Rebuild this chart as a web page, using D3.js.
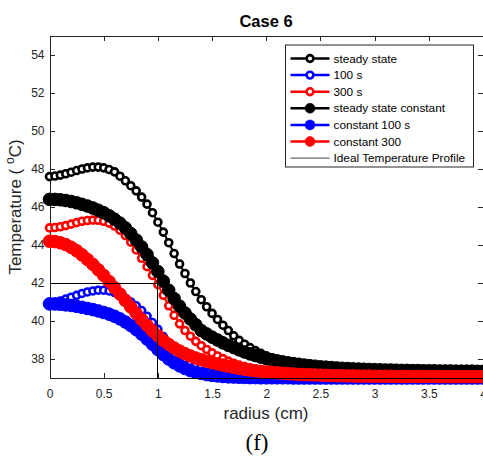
<!DOCTYPE html>
<html lang="en">
<head>
  <title>Case 6</title>
  <meta charset="utf-8">
  <script src="https://d3js.org/d3.v7.min.js"></script>
</head>
<body style="margin:0;background:#fff">
<style>
.axis path,
.axis line {
  fill: none;
  stroke: #262626;
  shape-rendering: crispEdges;
}

.axis text {
  font: 12px "Liberation Sans", Arial, sans-serif;
  fill: #262626;
}

.lbl {
  font-family: "Liberation Sans", Arial, sans-serif;
  fill: #262626;
}
</style>
<svg width="483" height="457"></svg>
<script>

// radius grid, 0 to 4 cm every 0.05
var radius = d3.range(0, 81).map(function(i) { return +(i * 0.05).toFixed(2); });

var steadyState = [
  47.60,47.63,47.68,47.75,47.83,47.92,48.00,48.06,48.10,48.10,
  48.06,47.97,47.85,47.62,47.38,47.12,46.85,46.52,46.15,45.70,
  45.20,44.68,44.12,43.55,43.00,42.50,42.00,41.55,41.12,40.75,
  40.40,40.08,39.78,39.50,39.22,38.98,38.78,38.60,38.44,38.30,
  38.17,38.06,37.97,37.89,37.82,37.76,37.70,37.65,37.61,37.57,
  37.54,37.51,37.49,37.47,37.45,37.43,37.42,37.41,37.40,37.39,
  37.38,37.37,37.37,37.36,37.36,37.35,37.35,37.34,37.34,37.34,
  37.33,37.33,37.33,37.33,37.32,37.32,37.32,37.32,37.32,37.31,
  37.31];

var t100 = [
  40.90,40.97,41.05,41.15,41.25,41.35,41.45,41.53,41.58,41.62,
  41.62,41.58,41.50,41.37,41.20,41.00,40.80,40.55,40.25,39.92,
  39.56,39.18,38.82,38.50,38.24,38.03,37.86,37.72,37.61,37.52,
  37.44,37.38,37.33,37.28,37.24,37.21,37.18,37.16,37.14,37.12,
  37.10,37.09,37.08,37.07,37.06,37.06,37.05,37.05,37.04,37.04,
  37.04,37.03,37.03,37.03,37.03,37.02,37.02,37.02,37.02,37.02,
  37.02,37.02,37.02,37.01,37.01,37.01,37.01,37.01,37.01,37.01,
  37.01,37.01,37.01,37.01,37.01,37.01,37.01,37.01,37.01,37.01,
  37.01];

var t300 = [
  44.90,44.92,44.96,45.02,45.10,45.18,45.25,45.29,45.31,45.30,
  45.25,45.15,45.00,44.78,44.50,44.15,43.74,43.30,42.86,42.40,
  41.92,41.35,40.80,40.30,39.85,39.50,39.20,38.93,38.70,38.50,
  38.32,38.16,38.02,37.89,37.78,37.68,37.60,37.52,37.46,37.41,
  37.37,37.33,37.30,37.27,37.25,37.23,37.21,37.20,37.19,37.18,
  37.17,37.16,37.15,37.14,37.13,37.13,37.12,37.12,37.11,37.11,
  37.10,37.10,37.10,37.09,37.09,37.09,37.09,37.08,37.08,37.08,
  37.08,37.08,37.08,37.07,37.07,37.07,37.07,37.07,37.07,37.07,
  37.07];

var steadyConst = [
  46.40,46.40,46.38,46.34,46.29,46.22,46.14,46.05,45.95,45.83,
  45.70,45.54,45.36,45.15,44.90,44.60,44.26,43.90,43.50,43.06,
  42.60,42.10,41.62,41.18,40.78,40.42,40.10,39.80,39.50,39.32,
  39.15,39.00,38.85,38.72,38.60,38.48,38.37,38.27,38.18,38.10,
  38.03,37.96,37.90,37.85,37.80,37.76,37.72,37.68,37.65,37.62,
  37.59,37.57,37.55,37.53,37.51,37.50,37.48,37.47,37.46,37.45,
  37.44,37.43,37.42,37.42,37.41,37.40,37.40,37.39,37.39,37.38,
  37.38,37.38,37.37,37.37,37.37,37.36,37.36,37.36,37.36,37.35,
  37.35];

var const100 = [
  40.90,40.90,40.88,40.85,40.82,40.77,40.72,40.66,40.60,40.53,
  40.45,40.36,40.25,40.11,39.95,39.76,39.55,39.31,39.05,38.78,
  38.50,38.24,38.00,37.80,37.64,37.50,37.39,37.30,37.24,37.18,
  37.14,37.11,37.08,37.06,37.05,37.04,37.03,37.02,37.02,37.01,
  37.01,37.01,37.01,37.01,37.01,37.00,37.00,37.00,37.00,37.00,
  37.00,37.00,37.00,37.00,37.00,37.00,37.00,37.00,37.00,37.00,
  37.00,37.00,37.00,37.00,37.00,37.00,37.00,37.00,37.00,37.00,
  37.00,37.00,37.00,37.00,37.00,37.00,37.00,37.00,37.00,37.00,
  37.00];

var const300 = [
  44.20,44.18,44.12,44.02,43.88,43.70,43.48,43.24,42.98,42.70,
  42.40,42.08,41.75,41.42,41.08,40.74,40.40,40.08,39.77,39.48,
  39.22,38.98,38.77,38.58,38.42,38.28,38.16,38.05,37.96,37.88,
  37.81,37.74,37.68,37.62,37.56,37.51,37.46,37.42,37.38,37.35,
  37.32,37.29,37.27,37.25,37.23,37.21,37.19,37.18,37.17,37.16,
  37.15,37.14,37.13,37.12,37.12,37.11,37.11,37.10,37.10,37.10,
  37.09,37.09,37.09,37.09,37.08,37.08,37.08,37.08,37.08,37.08,
  37.08,37.08,37.07,37.07,37.07,37.07,37.07,37.07,37.07,37.07,
  37.07];

// ideal step profile
var idealR = [0, 1, 1, 4];
var idealT = [42, 42, 37, 37];

var seriesNames = ["steady state", "100 s", "300 s", "steady state constant", "constant 100 s", "constant 300"];
var seriesColors = ["#000000", "#0000ff", "#ff0000", "#000000", "#0000ff", "#ff0000"];
var seriesFilled = [false, false, false, true, true, true];
var seriesValues = [steadyState, t100, t300, steadyConst, const100, const300];

var xTicks = [0, 0.5, 1, 1.5, 2, 2.5, 3, 3.5, 4];
var yTicks = [38, 40, 42, 44, 46, 48, 50, 52, 54];

var svg = d3.select("svg");

var x = d3.scaleLinear().domain([0, 4]).range([49.5, 483]);
var y = d3.scaleLinear().domain([37, 55]).range([378, 36]);

// axes box (drawn under the data, as matlab does)
svg.append("g")
    .attr("class", "axis")
    .attr("transform", "translate(0," + y(37) + ")")
    .call(d3.axisBottom(x).tickValues(xTicks).tickSizeInner(-5).tickSizeOuter(0).tickPadding(11)
      .tickFormat(function(d) { return d; }));

svg.append("g")
    .attr("class", "axis")
    .attr("transform", "translate(0," + y(55) + ")")
    .call(d3.axisTop(x).tickValues(xTicks).tickSizeInner(-5).tickSizeOuter(0).tickFormat(""));

svg.append("g")
    .attr("class", "axis")
    .attr("transform", "translate(" + x(0) + ",0)")
    .call(d3.axisLeft(y).tickValues(yTicks).tickSizeInner(-5).tickSizeOuter(0).tickPadding(5));

svg.append("g")
    .attr("class", "axis")
    .attr("transform", "translate(" + x(4) + ",0)")
    .call(d3.axisRight(y).tickValues(yTicks).tickSizeInner(-5).tickSizeOuter(0).tickFormat(""));

var line = d3.line()
    .x(function(d) { return x(d[0]); })
    .y(function(d) { return y(d[1]); });

seriesValues.forEach(function(vals, i) {
  var pts = radius.map(function(r, j) { return [r, vals[j]]; });
  var g = svg.append("g");
  g.append("path")
      .attr("d", line(pts))
      .attr("fill", "none")
      .attr("stroke", seriesColors[i])
      .attr("stroke-width", 2);
  g.selectAll("circle").data(pts).enter().append("circle")
      .attr("cx", function(d) { return x(d[0]); })
      .attr("cy", function(d) { return y(d[1]); })
      .attr("r", seriesFilled[i] ? 6.3 : 3.5)
      .attr("fill", seriesFilled[i] ? seriesColors[i] : "#fff")
      .attr("stroke", seriesColors[i])
      .attr("stroke-width", seriesFilled[i] ? 1 : 2.6);
});

svg.append("path")
    .attr("d", line(idealR.map(function(r, j) { return [r, idealT[j]]; })))
    .attr("fill", "none")
    .attr("stroke", "#000")
    .attr("stroke-width", 1)
    .style("shape-rendering", "crispEdges");

// legend
var lg = svg.append("g").attr("transform", "translate(285.5,45)");
lg.append("rect")
    .attr("width", 188)
    .attr("height", 122)
    .attr("fill", "#fff")
    .attr("stroke", "#262626")
    .attr("stroke-width", 1);

var legendNames = seriesNames.concat(["Ideal Temperature Profile"]);
legendNames.forEach(function(name, i) {
  var yy = 13.5 + i * 16.6;
  var row = lg.append("g");
  var col = i < 6 ? seriesColors[i] : "#000";
  row.append("line")
      .attr("x1", 5).attr("x2", 44)
      .attr("y1", yy).attr("y2", yy)
      .attr("stroke", col)
      .attr("stroke-width", i < 6 ? 2.5 : 1.2)
      .attr("stroke-opacity", i < 6 ? 1 : 0.6);
  if (i < 6) {
    row.append("circle")
        .attr("cx", 24.5).attr("cy", yy)
        .attr("r", seriesFilled[i] ? 5 : 3.4)
        .attr("fill", seriesFilled[i] ? col : "#fff")
        .attr("stroke", col)
        .attr("stroke-width", seriesFilled[i] ? 0.5 : 2.6);
  }
  row.append("text")
      .attr("class", "lbl")
      .attr("x", 48)
      .attr("y", yy + 4)
      .style("font-size", "11.8px")
      .style("fill", "#000")
      .text(name);
});

// titles
svg.append("text")
    .attr("class", "lbl")
    .attr("x", 266)
    .attr("y", 27)
    .attr("text-anchor", "middle")
    .style("font-size", "16.5px")
    .style("font-weight", "bold")
    .style("fill", "#000")
    .text("Case 6");

svg.append("text")
    .attr("class", "lbl")
    .attr("x", 266)
    .attr("y", 419)
    .attr("text-anchor", "middle")
    .style("font-size", "17px")
    .text("radius (cm)");

var yl = svg.append("text")
    .attr("class", "lbl")
    .attr("transform", "translate(21,207) rotate(-90)")
    .attr("text-anchor", "middle")
    .style("font-size", "17px");
yl.append("tspan").text("Temperature ( ");
yl.append("tspan").attr("dy", -7).style("font-size", "12px").text("o");
yl.append("tspan").attr("dy", 7).text("C)");

svg.append("text")
    .attr("x", 257)
    .attr("y", 450)
    .attr("text-anchor", "middle")
    .style("font-family", "'Liberation Serif', 'Times New Roman', serif")
    .style("font-size", "23px")
    .style("fill", "#000")
    .text("(f)");

</script>
</body>
</html>
